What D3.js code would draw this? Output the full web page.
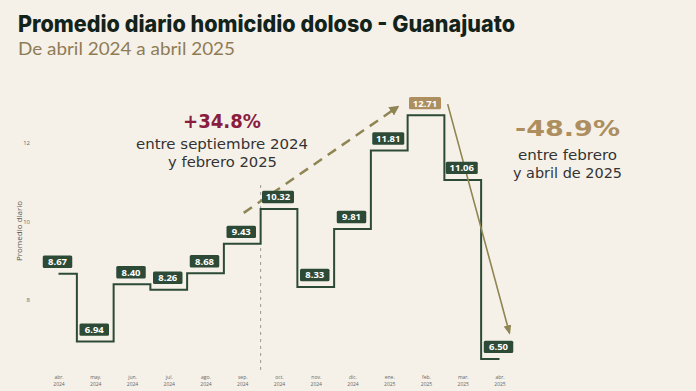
<!DOCTYPE html>
<html><head><meta charset="utf-8">
<script src="https://cdn.jsdelivr.net/npm/d3@7"></script>
<style>
html,body{margin:0;padding:0;background:#f5f1e9;}
svg{display:block;}
</style></head>
<body>
<svg id="c" width="696" height="391"></svg>
<script>
const months = ["abr.","may.","jun.","jul.","ago.","sep.","oct.","nov.","dic.","ene.","feb.","mar.","abr."];
const years = ["2024","2024","2024","2024","2024","2024","2024","2024","2024","2025","2025","2025","2025"];
const values = [8.67,6.94,8.40,8.26,8.68,9.43,10.32,8.33,9.81,11.81,12.71,11.06,6.50];
const yTicks = [8,10,12];
const highlightIndex = 10;
// annotation arrows in data units: [monthIndex, value]
const upArrow = [[5.04,10.22],[9.23,12.92]];
const downArrow = [[10.59,12.99],[12.27,7.16]];
const dividerLine = [[5.5,10.93],[5.5,6.19]];

const svg = d3.select("#c");
const W = 696, H = 391;
svg.append("rect").attr("width",W).attr("height",H).attr("fill","#f5f1e9");

const x = d3.scaleLinear().domain([0,12]).range([58.5,499.5]);
const y = d3.scaleLinear().domain([8,12]).range([300,143]);

// Title
svg.append("text").attr("x",18).attr("y",32)
  .attr("font-family","Inter, 'Open Sans', sans-serif").attr("font-weight",800)
  .attr("font-size",22.5).attr("fill","#13231a")
  .attr("textLength",497).attr("lengthAdjust","spacingAndGlyphs")
  .text("Promedio diario homicidio doloso - Guanajuato");
svg.append("text").attr("x",18).attr("y",55)
  .attr("font-family","Lato, 'Open Sans', sans-serif").attr("font-weight",400)
  .attr("font-size",17).attr("fill","#8f7c55")
  .attr("textLength",217).attr("lengthAdjust","spacingAndGlyphs")
  .text("De abril 2024 a abril 2025");

// Y axis
const yAxis = d3.axisLeft(y).tickValues(yTicks).tickSize(0).tickFormat(d3.format("d"));
const yg = svg.append("g").attr("transform","translate(33,0)").call(yAxis);
yg.select(".domain").remove();
yg.selectAll("text").attr("font-family","'Open Sans', sans-serif").attr("font-size",6).attr("fill","#666");

svg.append("text").attr("transform","translate(22,231) rotate(-90)")
  .attr("text-anchor","middle").attr("font-family","'Open Sans', sans-serif")
  .attr("font-size",8).attr("fill","#555").text("Promedio diario");

// X axis
const xAxis = d3.axisBottom(x).tickValues(d3.range(months.length)).tickSize(0).tickFormat(d => months[d]);
const xg = svg.append("g").attr("transform","translate(0,372)").call(xAxis);
xg.select(".domain").remove();
xg.selectAll(".tick text")
  .attr("font-family","'Open Sans', sans-serif").attr("font-size",5).attr("fill","#666")
  .attr("y",7).attr("dy",0);
xg.selectAll(".tick").append("text")
  .attr("font-family","'Open Sans', sans-serif").attr("font-size",5).attr("fill","#666")
  .attr("text-anchor","middle").attr("y",14)
  .text(d => years[d]);

// divider dashed line
svg.append("line")
  .attr("x1",x(dividerLine[0][0])).attr("y1",y(dividerLine[0][1]))
  .attr("x2",x(dividerLine[1][0])).attr("y2",y(dividerLine[1][1]))
  .attr("stroke","#999").attr("stroke-width",1).attr("stroke-dasharray","3,4");

// markers
const defs = svg.append("defs");
defs.append("marker").attr("id","ah1").attr("viewBox","0 0 10 10").attr("refX",8).attr("refY",5)
  .attr("markerWidth",4).attr("markerHeight",4).attr("orient","auto")
  .append("path").attr("d","M0,0L10,5L0,10z").attr("fill","#8e8552");
defs.append("marker").attr("id","ah2").attr("viewBox","0 0 10 10").attr("refX",8).attr("refY",5)
  .attr("markerWidth",6).attr("markerHeight",6).attr("orient","auto")
  .append("path").attr("d","M0,1L10,5L0,9z").attr("fill","#8e8552");

// step line (mid steps)
svg.append("path").datum(values)
  .attr("d", d3.line().x((d,i)=>x(i)).y(d=>y(d)).curve(d3.curveStep))
  .attr("fill","none").attr("stroke","#2d4a36").attr("stroke-width",2);

// arrows
svg.append("line")
  .attr("x1",x(upArrow[0][0])).attr("y1",y(upArrow[0][1]))
  .attr("x2",x(upArrow[1][0])).attr("y2",y(upArrow[1][1]))
  .attr("stroke","#8e8552").attr("stroke-width",2.5).attr("stroke-dasharray","10,7")
  .attr("marker-end","url(#ah1)");
svg.append("line")
  .attr("x1",x(downArrow[0][0])).attr("y1",y(downArrow[0][1]))
  .attr("x2",x(downArrow[1][0])).attr("y2",y(downArrow[1][1]))
  .attr("stroke","#8e8552").attr("stroke-width",1.6)
  .attr("marker-end","url(#ah2)");

// value labels
const lg = svg.append("g").selectAll("g").data(values).join("g")
  .attr("transform",(d,i)=>`translate(${x(i)-1},${y(d)-12})`);
lg.each(function(d,i){
  const g = d3.select(this);
  const txt = d.toFixed(2);
  const w = txt.length>4 ? 32 : 29.5;
  g.append("rect").attr("x",-w/2).attr("y",-6.2).attr("width",w).attr("height",12.4).attr("rx",1.5)
    .attr("fill", i===highlightIndex ? "#ad8e5f" : "#2d4a36");
  g.append("text").attr("text-anchor","middle").attr("dy","0.36em")
    .attr("font-family","'Open Sans', sans-serif").attr("font-weight",700).attr("font-size",9.5)
    .attr("fill","#fff").text(txt);
});

// annotations
const a1 = svg.append("g").attr("font-family","'DejaVu Sans', sans-serif").attr("text-anchor","middle");
a1.append("text").attr("x",222).attr("y",128).attr("font-size",20).attr("font-weight",700).attr("fill","#8a1d3e")
  .attr("textLength",78).attr("lengthAdjust","spacingAndGlyphs").text("+34.8%");
a1.append("text").attr("x",222).attr("y",149).attr("font-size",14).attr("fill","#333")
  .attr("textLength",172).attr("lengthAdjust","spacingAndGlyphs").text("entre septiembre 2024");
a1.append("text").attr("x",222.5).attr("y",167).attr("font-size",14).attr("fill","#333")
  .attr("textLength",109).attr("lengthAdjust","spacingAndGlyphs").text("y febrero 2025");

const a2 = svg.append("g").attr("font-family","'DejaVu Sans', sans-serif").attr("text-anchor","middle");
a2.append("text").attr("x",567.5).attr("y",135.5).attr("font-size",21.5).attr("font-weight",700).attr("fill","#ad8e5f")
  .attr("textLength",105).attr("lengthAdjust","spacingAndGlyphs").text("-48.9%");
a2.append("text").attr("x",567.5).attr("y",160).attr("font-size",14).attr("fill","#333")
  .attr("textLength",99).attr("lengthAdjust","spacingAndGlyphs").text("entre febrero");
a2.append("text").attr("x",567.5).attr("y",178).attr("font-size",14).attr("fill","#333")
  .attr("textLength",109).attr("lengthAdjust","spacingAndGlyphs").text("y abril de 2025");
</script>
</body></html>
